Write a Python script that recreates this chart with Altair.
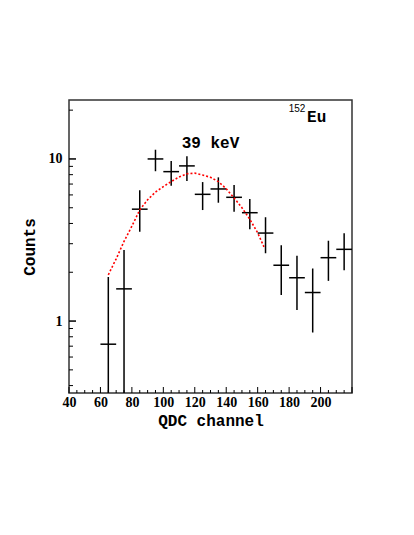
import altair as alt
import pandas as pd

# Data points (bin centres, counts, error bounds)
channel = [65, 75, 85, 95, 105, 115, 125, 135, 145, 155, 165, 175, 185, 195, 205, 215]
counts = [0.72, 1.58, 4.9, 10.0, 8.35, 9.06, 6.05, 6.53, 5.8, 4.66, 3.49, 2.21, 1.85, 1.50, 2.46, 2.77]
err_hi = [1.87, 2.74, 6.4, 11.4, 9.7, 10.4, 7.2, 7.7, 6.9, 5.66, 4.37, 2.94, 2.53, 2.11, 3.13, 3.48]
err_lo = [0.30, 0.30, 3.55, 8.4, 6.84, 7.3, 4.84, 5.37, 4.73, 3.68, 2.62, 1.45, 1.17, 0.85, 1.77, 2.06]
half_bin = 5

# Fit curve
fit_x = [65, 70, 75, 80, 85, 90, 95, 100, 105, 110, 115, 120, 125, 130, 135, 140, 145, 150, 155, 160, 164]
fit_y = [1.93, 2.42, 3.1, 3.85, 4.85, 5.6, 6.25, 6.75, 7.25, 7.75, 8.1, 8.17, 7.96, 7.7, 7.25, 6.55, 5.75, 5.0, 4.25, 3.5, 2.87]

# Axis ticks
x_labels = [40, 60, 80, 100, 120, 140, 160, 180, 200]
x_major = [40, 60, 80, 100, 120, 140, 160, 180, 200, 220]
x_minor = [v for v in range(45, 220, 5) if v % 20 != 0]
y_major = [1, 10]
y_minor = [0.4, 0.5, 0.6, 0.7, 0.8, 0.9, 2, 3, 4, 5, 6, 7, 8, 9, 20]

XD = [40, 220]
YD = [0.36, 23.1]
W, H = 283, 293

pts = pd.DataFrame({"x": channel, "y": counts, "hi": err_hi, "lo": err_lo})
pts["xl"] = pts["x"] - half_bin
pts["xr"] = pts["x"] + half_bin
fit = pd.DataFrame({"x": fit_x, "y": fit_y})

xs = alt.Scale(domain=XD, nice=False, zero=False)
ys = alt.Scale(type="log", domain=YD, nice=False)

mono = "Liberation Mono"
serif = "Liberation Serif"

xaxis = alt.Axis(values=x_labels, ticks=False, domain=False, grid=False, labelOverlap=False,
                 labelFont=serif, labelFontWeight="bold", labelFontSize=14, labelColor="black",
                 labelPadding=2, title="QDC channel", titleFont=mono, titleFontSize=16,
                 titleFontWeight="bold", titleColor="black", titlePadding=3)
yaxis = alt.Axis(values=y_major, ticks=False, domain=False, grid=False, format="~g", labelOverlap=False,
                 labelFont=serif, labelFontWeight="bold", labelFontSize=14, labelColor="black",
                 labelPadding=7, title="Counts", titleFont=mono, titleFontSize=16,
                 titleFontWeight="bold", titleColor="black", titlePadding=11)

base = alt.Chart(pts)

vbar = base.mark_rule(color="black", strokeWidth=1.5, clip=True).encode(
    x=alt.X("x:Q", scale=xs, axis=xaxis),
    y=alt.Y("lo:Q", scale=ys, axis=yaxis),
    y2="hi:Q",
)
hbar = base.mark_rule(color="black", strokeWidth=1.5, clip=True).encode(
    x=alt.X("xl:Q", scale=xs, axis=xaxis),
    x2="xr:Q",
    y=alt.Y("y:Q", scale=ys, axis=yaxis),
)
curve = alt.Chart(fit).mark_line(color="red", strokeDash=[2, 2], strokeWidth=1.6).encode(
    x=alt.X("x:Q", scale=xs, axis=xaxis),
    y=alt.Y("y:Q", scale=ys, axis=yaxis),
)

xt_major = alt.Chart(pd.DataFrame({"x": x_major})).mark_rule(color="black", strokeWidth=1).encode(
    x=alt.X("x:Q", scale=xs, axis=xaxis), y=alt.value(H), y2=alt.value(H - 6))
xt_minor = alt.Chart(pd.DataFrame({"x": x_minor})).mark_rule(color="black", strokeWidth=1).encode(
    x=alt.X("x:Q", scale=xs, axis=xaxis), y=alt.value(H), y2=alt.value(H - 3))
yt_major = alt.Chart(pd.DataFrame({"y": y_major})).mark_rule(color="black", strokeWidth=1.5).encode(
    y=alt.Y("y:Q", scale=ys, axis=yaxis), x=alt.value(0), x2=alt.value(7))
yt_minor = alt.Chart(pd.DataFrame({"y": y_minor})).mark_rule(color="black", strokeWidth=1).encode(
    y=alt.Y("y:Q", scale=ys, axis=yaxis), x=alt.value(0), x2=alt.value(4))

labels = pd.DataFrame({
    "x": [130.0, 197.5],
    "y": [12.6, 18.2],
    "t": ["39 keV", "Eu"],
})
txt = alt.Chart(labels).mark_text(font=mono, fontWeight="bold", fontSize=16, color="black",
                                  baseline="middle", align="center").encode(
    x=alt.X("x:Q", scale=xs, axis=xaxis), y=alt.Y("y:Q", scale=ys, axis=yaxis), text="t:N")
sup = alt.Chart(pd.DataFrame({"x": [185.0], "y": [20.3], "t": ["152"]})).mark_text(
    font="Liberation Sans", fontSize=10, color="black", baseline="middle", align="center").encode(
    x=alt.X("x:Q", scale=xs, axis=xaxis), y=alt.Y("y:Q", scale=ys, axis=yaxis), text="t:N")

chart = alt.layer(vbar, hbar, curve, xt_major, xt_minor, yt_major, yt_minor, txt, sup).properties(
    width=W, height=H,
    padding={"left": 61, "top": 92, "right": 40, "bottom": 100},
    autosize="none",
    background="white",
).configure_view(
    stroke="#333333", strokeWidth=1.5
).configure_axis(labelOverlap=False, labelFlush=False)

chart.save("out.html", embed_options={"renderer": "svg", "actions": False})
